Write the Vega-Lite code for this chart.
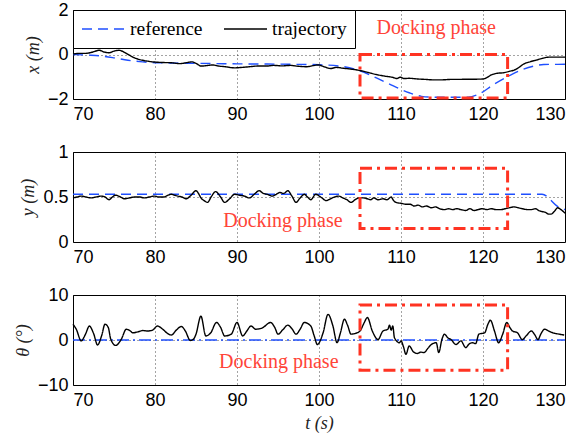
{
  "$schema": "https://vega.github.io/schema/vega-lite/v6.json",
  "padding": {"left": 13, "top": 0, "right": 5, "bottom": 0},
  "background": "white",
  "config": {
    "view": {"stroke": "black", "strokeWidth": 1},
    "axis": {
      "grid": true, "gridColor": "black", "gridDash": [1, 3], "gridWidth": 0.8, "gridOpacity": 0.9,
      "domain": false, "ticks": false,
      "labelFont": "Liberation Sans, Arial, sans-serif", "labelFontSize": 18, "labelColor": "black",
      "titleFont": "Liberation Serif, DejaVu Serif, Times New Roman, serif", "titleFontStyle": "italic", "titleFontWeight": "normal",
      "titleFontSize": 18, "titleColor": "#222222", "titlePadding": 5
    },
    "axisX": {"labelPadding": 6},
    "axisY": {"labelPadding": 5}
  },
  "bounds": "flush",
  "spacing": 53,
  "resolve": {"scale": {"color": "independent", "strokeDash": "independent"}, "legend": {"color": "independent", "strokeDash": "independent"}},
  "datasets": {
    "xd": [
      {"t": 70, "v": 0.0, "s": "reference"}, {"t": 72, "v": -0.03, "s": "reference"}, {"t": 73.5, "v": -0.07, "s": "reference"},
      {"t": 75, "v": -0.15, "s": "reference"}, {"t": 76.7, "v": -0.26, "s": "reference"}, {"t": 78.5, "v": -0.33, "s": "reference"},
      {"t": 80, "v": -0.37, "s": "reference"}, {"t": 85.6, "v": -0.4, "s": "reference"}, {"t": 90, "v": -0.42, "s": "reference"},
      {"t": 96.6, "v": -0.44, "s": "reference"}, {"t": 100, "v": -0.46, "s": "reference"}, {"t": 102.5, "v": -0.52, "s": "reference"},
      {"t": 104.9, "v": -0.72, "s": "reference"}, {"t": 107, "v": -1.05, "s": "reference"}, {"t": 109, "v": -1.4, "s": "reference"},
      {"t": 111, "v": -1.72, "s": "reference"}, {"t": 112.5, "v": -1.88, "s": "reference"}, {"t": 114, "v": -1.92, "s": "reference"},
      {"t": 118.2, "v": -1.92, "s": "reference"}, {"t": 119.5, "v": -1.78, "s": "reference"}, {"t": 121.3, "v": -1.35, "s": "reference"},
      {"t": 123.4, "v": -0.92, "s": "reference"}, {"t": 124.8, "v": -0.68, "s": "reference"}, {"t": 126.2, "v": -0.52, "s": "reference"},
      {"t": 127.4, "v": -0.45, "s": "reference"}, {"t": 130, "v": -0.44, "s": "reference"},
      {"t": 70, "v": 0.02, "s": "trajectory"}, {"t": 70.8, "v": 0.05, "s": "trajectory"}, {"t": 71.5, "v": 0.05, "s": "trajectory"},
      {"t": 72.3, "v": 0.1, "s": "trajectory"}, {"t": 73.2, "v": 0.19, "s": "trajectory"}, {"t": 73.8, "v": 0.11, "s": "trajectory"},
      {"t": 74.4, "v": 0.08, "s": "trajectory"}, {"t": 75, "v": 0.15, "s": "trajectory"}, {"t": 75.6, "v": 0.19, "s": "trajectory"},
      {"t": 76.5, "v": 0.05, "s": "trajectory"}, {"t": 77.5, "v": -0.15, "s": "trajectory"}, {"t": 78.5, "v": -0.26, "s": "trajectory"},
      {"t": 79.3, "v": -0.31, "s": "trajectory"}, {"t": 80, "v": -0.34, "s": "trajectory"}, {"t": 81, "v": -0.36, "s": "trajectory"},
      {"t": 82, "v": -0.37, "s": "trajectory"}, {"t": 83, "v": -0.41, "s": "trajectory"}, {"t": 83.8, "v": -0.37, "s": "trajectory"},
      {"t": 84.5, "v": -0.33, "s": "trajectory"}, {"t": 85.1, "v": -0.42, "s": "trajectory"}, {"t": 85.6, "v": -0.52, "s": "trajectory"},
      {"t": 86.3, "v": -0.5, "s": "trajectory"}, {"t": 87, "v": -0.47, "s": "trajectory"}, {"t": 87.8, "v": -0.52, "s": "trajectory"},
      {"t": 88.6, "v": -0.55, "s": "trajectory"}, {"t": 89.7, "v": -0.6, "s": "trajectory"}, {"t": 90.6, "v": -0.58, "s": "trajectory"},
      {"t": 91.5, "v": -0.55, "s": "trajectory"}, {"t": 92.5, "v": -0.52, "s": "trajectory"}, {"t": 93.5, "v": -0.52, "s": "trajectory"},
      {"t": 94.5, "v": -0.49, "s": "trajectory"}, {"t": 95.5, "v": -0.51, "s": "trajectory"}, {"t": 96.5, "v": -0.49, "s": "trajectory"},
      {"t": 97.5, "v": -0.53, "s": "trajectory"}, {"t": 98.5, "v": -0.55, "s": "trajectory"}, {"t": 99.3, "v": -0.5, "s": "trajectory"},
      {"t": 99.9, "v": -0.47, "s": "trajectory"}, {"t": 100.7, "v": -0.56, "s": "trajectory"}, {"t": 101.4, "v": -0.63, "s": "trajectory"},
      {"t": 102.1, "v": -0.58, "s": "trajectory"}, {"t": 103, "v": -0.62, "s": "trajectory"}, {"t": 104, "v": -0.66, "s": "trajectory"},
      {"t": 105, "v": -0.72, "s": "trajectory"}, {"t": 106, "v": -0.81, "s": "trajectory"}, {"t": 107, "v": -0.9, "s": "trajectory"},
      {"t": 108, "v": -0.97, "s": "trajectory"}, {"t": 109, "v": -1.03, "s": "trajectory"}, {"t": 109.5, "v": -1.08, "s": "trajectory"},
      {"t": 109.9, "v": -1.02, "s": "trajectory"}, {"t": 110.4, "v": -1.08, "s": "trajectory"}, {"t": 111, "v": -1.07, "s": "trajectory"},
      {"t": 112, "v": -1.1, "s": "trajectory"}, {"t": 113, "v": -1.12, "s": "trajectory"}, {"t": 114, "v": -1.14, "s": "trajectory"},
      {"t": 115, "v": -1.14, "s": "trajectory"}, {"t": 116, "v": -1.12, "s": "trajectory"}, {"t": 117, "v": -1.12, "s": "trajectory"},
      {"t": 118, "v": -1.11, "s": "trajectory"}, {"t": 119, "v": -1.11, "s": "trajectory"}, {"t": 120, "v": -1.1, "s": "trajectory"},
      {"t": 120.5, "v": -1.03, "s": "trajectory"}, {"t": 121, "v": -0.92, "s": "trajectory"}, {"t": 121.8, "v": -0.84, "s": "trajectory"},
      {"t": 122.5, "v": -0.82, "s": "trajectory"}, {"t": 123.3, "v": -0.75, "s": "trajectory"}, {"t": 123.8, "v": -0.7, "s": "trajectory"},
      {"t": 124.3, "v": -0.6, "s": "trajectory"}, {"t": 125, "v": -0.42, "s": "trajectory"}, {"t": 125.8, "v": -0.32, "s": "trajectory"},
      {"t": 126.5, "v": -0.25, "s": "trajectory"}, {"t": 127.3, "v": -0.17, "s": "trajectory"}, {"t": 128, "v": -0.12, "s": "trajectory"},
      {"t": 129, "v": -0.12, "s": "trajectory"}, {"t": 130, "v": -0.12, "s": "trajectory"}
    ],
    "yd": [
      {"t": 70, "v": 0.53, "s": "reference"}, {"t": 127.2, "v": 0.53, "s": "reference"}, {"t": 129.2, "v": 0.39, "s": "reference"}, {"t": 130, "v": 0.36, "s": "reference"},
      {"t": 70, "v": 0.49, "s": "trajectory"}, {"t": 70.5, "v": 0.5, "s": "trajectory"}, {"t": 71, "v": 0.51, "s": "trajectory"},
      {"t": 71.6, "v": 0.5, "s": "trajectory"}, {"t": 72.2, "v": 0.49, "s": "trajectory"}, {"t": 72.8, "v": 0.5, "s": "trajectory"},
      {"t": 73.4, "v": 0.51, "s": "trajectory"}, {"t": 73.9, "v": 0.5, "s": "trajectory"}, {"t": 74.4, "v": 0.47, "s": "trajectory"},
      {"t": 74.8, "v": 0.5, "s": "trajectory"}, {"t": 75.2, "v": 0.52, "s": "trajectory"}, {"t": 75.8, "v": 0.5, "s": "trajectory"},
      {"t": 76.3, "v": 0.48, "s": "trajectory"}, {"t": 76.9, "v": 0.49, "s": "trajectory"}, {"t": 77.5, "v": 0.5, "s": "trajectory"},
      {"t": 78.1, "v": 0.5, "s": "trajectory"}, {"t": 78.7, "v": 0.49, "s": "trajectory"}, {"t": 79.3, "v": 0.5, "s": "trajectory"},
      {"t": 79.9, "v": 0.51, "s": "trajectory"}, {"t": 80.5, "v": 0.5, "s": "trajectory"}, {"t": 81.1, "v": 0.5, "s": "trajectory"},
      {"t": 81.6, "v": 0.52, "s": "trajectory"}, {"t": 82, "v": 0.53, "s": "trajectory"}, {"t": 82.4, "v": 0.52, "s": "trajectory"},
      {"t": 82.8, "v": 0.51, "s": "trajectory"}, {"t": 83.3, "v": 0.5, "s": "trajectory"}, {"t": 83.8, "v": 0.48, "s": "trajectory"},
      {"t": 84.4, "v": 0.52, "s": "trajectory"}, {"t": 85, "v": 0.57, "s": "trajectory"}, {"t": 85.3, "v": 0.54, "s": "trajectory"},
      {"t": 85.6, "v": 0.49, "s": "trajectory"}, {"t": 86, "v": 0.46, "s": "trajectory"}, {"t": 86.4, "v": 0.44, "s": "trajectory"},
      {"t": 86.9, "v": 0.51, "s": "trajectory"}, {"t": 87.4, "v": 0.56, "s": "trajectory"}, {"t": 88, "v": 0.5, "s": "trajectory"},
      {"t": 88.5, "v": 0.44, "s": "trajectory"}, {"t": 89.1, "v": 0.48, "s": "trajectory"}, {"t": 89.7, "v": 0.53, "s": "trajectory"},
      {"t": 90.3, "v": 0.52, "s": "trajectory"}, {"t": 90.9, "v": 0.51, "s": "trajectory"}, {"t": 91.5, "v": 0.49, "s": "trajectory"},
      {"t": 92.1, "v": 0.53, "s": "trajectory"}, {"t": 92.7, "v": 0.57, "s": "trajectory"}, {"t": 93.2, "v": 0.54, "s": "trajectory"},
      {"t": 93.7, "v": 0.53, "s": "trajectory"}, {"t": 94.3, "v": 0.51, "s": "trajectory"}, {"t": 94.8, "v": 0.53, "s": "trajectory"},
      {"t": 95.2, "v": 0.55, "s": "trajectory"}, {"t": 95.7, "v": 0.54, "s": "trajectory"}, {"t": 96.2, "v": 0.57, "s": "trajectory"},
      {"t": 96.7, "v": 0.51, "s": "trajectory"}, {"t": 97.2, "v": 0.44, "s": "trajectory"}, {"t": 97.7, "v": 0.49, "s": "trajectory"},
      {"t": 98.2, "v": 0.53, "s": "trajectory"}, {"t": 98.6, "v": 0.5, "s": "trajectory"}, {"t": 99, "v": 0.47, "s": "trajectory"},
      {"t": 99.6, "v": 0.53, "s": "trajectory"}, {"t": 100.2, "v": 0.5, "s": "trajectory"}, {"t": 100.9, "v": 0.46, "s": "trajectory"},
      {"t": 101.4, "v": 0.48, "s": "trajectory"}, {"t": 101.9, "v": 0.5, "s": "trajectory"}, {"t": 102.4, "v": 0.51, "s": "trajectory"},
      {"t": 102.9, "v": 0.49, "s": "trajectory"}, {"t": 103.4, "v": 0.47, "s": "trajectory"}, {"t": 103.9, "v": 0.44, "s": "trajectory"},
      {"t": 104.4, "v": 0.47, "s": "trajectory"}, {"t": 104.9, "v": 0.49, "s": "trajectory"}, {"t": 105.4, "v": 0.49, "s": "trajectory"},
      {"t": 105.9, "v": 0.48, "s": "trajectory"}, {"t": 106.3, "v": 0.47, "s": "trajectory"}, {"t": 106.7, "v": 0.49, "s": "trajectory"},
      {"t": 107.2, "v": 0.47, "s": "trajectory"}, {"t": 107.8, "v": 0.48, "s": "trajectory"}, {"t": 108.3, "v": 0.47, "s": "trajectory"},
      {"t": 108.8, "v": 0.5, "s": "trajectory"}, {"t": 109.1, "v": 0.46, "s": "trajectory"}, {"t": 109.4, "v": 0.44, "s": "trajectory"},
      {"t": 110, "v": 0.43, "s": "trajectory"}, {"t": 110.6, "v": 0.42, "s": "trajectory"}, {"t": 111.1, "v": 0.42, "s": "trajectory"},
      {"t": 111.6, "v": 0.4, "s": "trajectory"}, {"t": 112.1, "v": 0.41, "s": "trajectory"}, {"t": 112.6, "v": 0.39, "s": "trajectory"},
      {"t": 113.1, "v": 0.4, "s": "trajectory"}, {"t": 113.7, "v": 0.38, "s": "trajectory"}, {"t": 114.2, "v": 0.39, "s": "trajectory"},
      {"t": 114.7, "v": 0.37, "s": "trajectory"}, {"t": 115.3, "v": 0.36, "s": "trajectory"}, {"t": 115.8, "v": 0.37, "s": "trajectory"},
      {"t": 116.3, "v": 0.36, "s": "trajectory"}, {"t": 116.8, "v": 0.37, "s": "trajectory"}, {"t": 117.3, "v": 0.36, "s": "trajectory"},
      {"t": 117.9, "v": 0.35, "s": "trajectory"}, {"t": 118.4, "v": 0.37, "s": "trajectory"}, {"t": 118.9, "v": 0.35, "s": "trajectory"},
      {"t": 119.4, "v": 0.36, "s": "trajectory"}, {"t": 119.9, "v": 0.37, "s": "trajectory"}, {"t": 120.5, "v": 0.36, "s": "trajectory"},
      {"t": 121, "v": 0.37, "s": "trajectory"}, {"t": 121.6, "v": 0.36, "s": "trajectory"}, {"t": 122.2, "v": 0.36, "s": "trajectory"},
      {"t": 122.7, "v": 0.37, "s": "trajectory"}, {"t": 123.2, "v": 0.38, "s": "trajectory"}, {"t": 123.8, "v": 0.39, "s": "trajectory"},
      {"t": 124.3, "v": 0.38, "s": "trajectory"}, {"t": 124.8, "v": 0.37, "s": "trajectory"}, {"t": 125.4, "v": 0.36, "s": "trajectory"},
      {"t": 125.9, "v": 0.36, "s": "trajectory"}, {"t": 126.4, "v": 0.37, "s": "trajectory"}, {"t": 126.8, "v": 0.35, "s": "trajectory"},
      {"t": 127.1, "v": 0.34, "s": "trajectory"}, {"t": 127.6, "v": 0.33, "s": "trajectory"}, {"t": 128, "v": 0.31, "s": "trajectory"},
      {"t": 128.3, "v": 0.31, "s": "trajectory"}, {"t": 128.7, "v": 0.34, "s": "trajectory"}, {"t": 129.1, "v": 0.38, "s": "trajectory"},
      {"t": 129.5, "v": 0.36, "s": "trajectory"}, {"t": 130, "v": 0.32, "s": "trajectory"}
    ],
    "td": [
      {"t": 70, "v": 0, "s": "reference"}, {"t": 130, "v": 0, "s": "reference"},
      {"t": 70, "v": 3.5, "s": "trajectory"}, {"t": 70.4, "v": 2.4, "s": "trajectory"}, {"t": 71, "v": -0.2, "s": "trajectory"},
      {"t": 71.5, "v": 1.2, "s": "trajectory"}, {"t": 72, "v": 3.1, "s": "trajectory"}, {"t": 72.5, "v": 1.5, "s": "trajectory"},
      {"t": 73, "v": -1.1, "s": "trajectory"}, {"t": 73.5, "v": 1.0, "s": "trajectory"}, {"t": 73.9, "v": 3.5, "s": "trajectory"},
      {"t": 74.3, "v": 2.8, "s": "trajectory"}, {"t": 74.6, "v": 0.2, "s": "trajectory"}, {"t": 75.2, "v": -1.2, "s": "trajectory"},
      {"t": 75.9, "v": 0.2, "s": "trajectory"}, {"t": 76.5, "v": 2.4, "s": "trajectory"}, {"t": 77, "v": 2.0, "s": "trajectory"},
      {"t": 77.3, "v": 1.6, "s": "trajectory"}, {"t": 77.9, "v": 1.8, "s": "trajectory"}, {"t": 78.5, "v": 2.1, "s": "trajectory"},
      {"t": 79.1, "v": 2.0, "s": "trajectory"}, {"t": 79.7, "v": 2.2, "s": "trajectory"}, {"t": 80.3, "v": 3.1, "s": "trajectory"},
      {"t": 81, "v": 2.3, "s": "trajectory"}, {"t": 81.5, "v": 1.5, "s": "trajectory"}, {"t": 82, "v": 1.1, "s": "trajectory"},
      {"t": 82.6, "v": 2.2, "s": "trajectory"}, {"t": 83.2, "v": 3.0, "s": "trajectory"}, {"t": 83.7, "v": 2.0, "s": "trajectory"},
      {"t": 84.3, "v": -0.1, "s": "trajectory"}, {"t": 84.7, "v": 0.2, "s": "trajectory"}, {"t": 85, "v": 1.3, "s": "trajectory"},
      {"t": 85.6, "v": 5.3, "s": "trajectory"}, {"t": 86.2, "v": 0.9, "s": "trajectory"}, {"t": 86.8, "v": 1.6, "s": "trajectory"},
      {"t": 87.5, "v": 3.9, "s": "trajectory"}, {"t": 88, "v": 2.8, "s": "trajectory"}, {"t": 88.5, "v": 0.9, "s": "trajectory"},
      {"t": 89.3, "v": 1.3, "s": "trajectory"}, {"t": 90, "v": 3.9, "s": "trajectory"}, {"t": 90.7, "v": 0.9, "s": "trajectory"},
      {"t": 91.2, "v": 2.0, "s": "trajectory"}, {"t": 91.7, "v": 3.1, "s": "trajectory"}, {"t": 92.3, "v": 2.4, "s": "trajectory"},
      {"t": 93.1, "v": 2.7, "s": "trajectory"}, {"t": 94.1, "v": 3.9, "s": "trajectory"}, {"t": 94.6, "v": 2.8, "s": "trajectory"},
      {"t": 95, "v": 1.3, "s": "trajectory"}, {"t": 95.6, "v": 2.3, "s": "trajectory"}, {"t": 96.2, "v": 3.3, "s": "trajectory"},
      {"t": 96.7, "v": 2.5, "s": "trajectory"}, {"t": 97.2, "v": 1.3, "s": "trajectory"}, {"t": 97.7, "v": 2.4, "s": "trajectory"},
      {"t": 98.2, "v": 3.9, "s": "trajectory"}, {"t": 99, "v": 3.1, "s": "trajectory"}, {"t": 99.4, "v": 1.0, "s": "trajectory"},
      {"t": 99.8, "v": -1.0, "s": "trajectory"}, {"t": 100.5, "v": 1.6, "s": "trajectory"}, {"t": 101.1, "v": 5.7, "s": "trajectory"},
      {"t": 101.7, "v": 3.1, "s": "trajectory"}, {"t": 102.2, "v": -0.6, "s": "trajectory"}, {"t": 102.6, "v": 1.5, "s": "trajectory"},
      {"t": 103.1, "v": 4.6, "s": "trajectory"}, {"t": 103.5, "v": 3.2, "s": "trajectory"}, {"t": 103.9, "v": 1.3, "s": "trajectory"},
      {"t": 104.5, "v": 1.5, "s": "trajectory"}, {"t": 105, "v": 2.0, "s": "trajectory"}, {"t": 105.5, "v": 3.8, "s": "trajectory"},
      {"t": 105.9, "v": 5.0, "s": "trajectory"}, {"t": 106.5, "v": 2.0, "s": "trajectory"}, {"t": 107.2, "v": 0.1, "s": "trajectory"},
      {"t": 107.8, "v": 2.0, "s": "trajectory"}, {"t": 108.4, "v": 2.4, "s": "trajectory"}, {"t": 108.6, "v": 3.3, "s": "trajectory"},
      {"t": 108.8, "v": 2.2, "s": "trajectory"}, {"t": 109, "v": 3.1, "s": "trajectory"}, {"t": 109.2, "v": 0.5, "s": "trajectory"},
      {"t": 109.8, "v": -0.6, "s": "trajectory"}, {"t": 110, "v": -0.2, "s": "trajectory"}, {"t": 110.3, "v": -1.5, "s": "trajectory"},
      {"t": 110.6, "v": -3.2, "s": "trajectory"}, {"t": 111, "v": -1.3, "s": "trajectory"}, {"t": 111.5, "v": -2.6, "s": "trajectory"},
      {"t": 112, "v": -3.0, "s": "trajectory"}, {"t": 112.4, "v": -2.7, "s": "trajectory"}, {"t": 112.8, "v": -2.8, "s": "trajectory"},
      {"t": 113.3, "v": -1.8, "s": "trajectory"}, {"t": 113.7, "v": -1.0, "s": "trajectory"}, {"t": 114.3, "v": -0.6, "s": "trajectory"},
      {"t": 114.6, "v": -2.8, "s": "trajectory"}, {"t": 115, "v": 0.2, "s": "trajectory"}, {"t": 115.3, "v": 1.3, "s": "trajectory"},
      {"t": 115.7, "v": 0.5, "s": "trajectory"}, {"t": 116.1, "v": 0.1, "s": "trajectory"}, {"t": 116.7, "v": -1.0, "s": "trajectory"},
      {"t": 117.3, "v": -0.2, "s": "trajectory"}, {"t": 117.9, "v": -1.7, "s": "trajectory"}, {"t": 118.3, "v": -0.9, "s": "trajectory"},
      {"t": 118.7, "v": -0.6, "s": "trajectory"}, {"t": 119.1, "v": -0.8, "s": "trajectory"}, {"t": 119.5, "v": 1.3, "s": "trajectory"},
      {"t": 120.2, "v": 1.6, "s": "trajectory"}, {"t": 120.6, "v": 3.5, "s": "trajectory"}, {"t": 120.9, "v": 4.4, "s": "trajectory"},
      {"t": 121.4, "v": 2.0, "s": "trajectory"}, {"t": 121.9, "v": -0.6, "s": "trajectory"}, {"t": 122.4, "v": 1.3, "s": "trajectory"},
      {"t": 122.9, "v": 3.9, "s": "trajectory"}, {"t": 123.3, "v": 2.7, "s": "trajectory"}, {"t": 123.6, "v": 2.0, "s": "trajectory"},
      {"t": 124.2, "v": 1.6, "s": "trajectory"}, {"t": 124.8, "v": 0.1, "s": "trajectory"}, {"t": 125.3, "v": 1.0, "s": "trajectory"},
      {"t": 125.9, "v": 2.0, "s": "trajectory"}, {"t": 126.3, "v": 1.2, "s": "trajectory"}, {"t": 126.7, "v": 0.1, "s": "trajectory"},
      {"t": 127.1, "v": 1.5, "s": "trajectory"}, {"t": 127.5, "v": 2.4, "s": "trajectory"}, {"t": 128.1, "v": 1.9, "s": "trajectory"},
      {"t": 128.7, "v": 1.5, "s": "trajectory"}, {"t": 129.3, "v": 1.3, "s": "trajectory"}, {"t": 129.9, "v": 1.1, "s": "trajectory"}
    ]
  },
  "vconcat": [
    {
      "width": 492, "height": 89,
      "layer": [
        {
          "data": {"name": "xd"},
          "mark": {"type": "line", "strokeWidth": 1.4, "interpolate": "monotone"},
          "encoding": {
            "x": {"field": "t", "type": "quantitative", "scale": {"domain": [70, 130], "nice": false, "zero": false}, "axis": {"values": [70, 80, 90, 100, 110, 120, 130], "title": null}},
            "y": {"field": "v", "type": "quantitative", "scale": {"domain": [-2, 2], "nice": false, "zero": false}, "axis": {"values": [-2, 0, 2], "format": "~r", "title": "x (m)"}},
            "color": {"field": "s", "type": "nominal", "scale": {"domain": ["reference", "trajectory"], "range": ["#1f4fff", "#000000"]},
              "legend": {"orient": "none", "legendX": 0, "legendY": 0, "direction": "horizontal", "title": null, "fillColor": "white", "strokeColor": "black", "padding": 8, "symbolType": "stroke", "symbolSize": 1849, "symbolStrokeWidth": 1.4, "clipHeight": 22, "labelFont": "Liberation Serif, DejaVu Serif, Times New Roman, serif", "labelFontSize": 19.5, "labelColor": "black", "labelOffset": 4, "columnPadding": 20}},
            "strokeDash": {"field": "s", "type": "nominal", "scale": {"domain": ["reference", "trajectory"], "range": [[10, 6], [1, 0]]},
              "legend": {"orient": "none", "legendX": 0, "legendY": 0, "direction": "horizontal", "title": null, "fillColor": "white", "strokeColor": "black", "padding": 8, "symbolType": "stroke", "symbolSize": 1849, "symbolStrokeWidth": 1.4, "clipHeight": 22, "labelFont": "Liberation Serif, DejaVu Serif, Times New Roman, serif", "labelFontSize": 19.5, "labelColor": "black", "labelOffset": 4, "columnPadding": 20}}
          }
        },
        {
          "data": {"values": [{}]},
          "mark": {"type": "rect", "filled": false, "stroke": "#ff3322", "strokeWidth": 3, "strokeDash": [12, 5, 3, 5]},
          "encoding": {"x": {"datum": 105}, "x2": {"datum": 123}, "y": {"datum": 0}, "y2": {"datum": -1.95}}
        },
        {
          "data": {"values": [{}]},
          "mark": {"type": "text", "text": "Docking phase", "font": "Liberation Serif, DejaVu Serif, Times New Roman, serif", "fontSize": 20, "color": "#ff4438"},
          "encoding": {"x": {"datum": 114.3}, "y": {"datum": 1.2}}
        }
      ]
    },
    {
      "width": 492, "height": 90,
      "layer": [
        {
          "data": {"name": "yd"},
          "mark": {"type": "line", "strokeWidth": 1.4, "interpolate": "monotone"},
          "encoding": {
            "x": {"field": "t", "type": "quantitative", "scale": {"domain": [70, 130], "nice": false, "zero": false}, "axis": {"values": [70, 80, 90, 100, 110, 120, 130], "title": null}},
            "y": {"field": "v", "type": "quantitative", "scale": {"domain": [0, 1], "nice": false, "zero": false}, "axis": {"values": [0, 0.5, 1], "format": "~r", "title": "y (m)"}},
            "color": {"field": "s", "type": "nominal", "scale": {"domain": ["reference", "trajectory"], "range": ["#1f4fff", "#000000"]}, "legend": null},
            "strokeDash": {"field": "s", "type": "nominal", "scale": {"domain": ["reference", "trajectory"], "range": [[10, 6], [1, 0]]}, "legend": null}
          }
        },
        {
          "data": {"values": [{}]},
          "mark": {"type": "rect", "filled": false, "stroke": "#ff3322", "strokeWidth": 3, "strokeDash": [12, 5, 3, 5]},
          "encoding": {"x": {"datum": 105}, "x2": {"datum": 123}, "y": {"datum": 0.82}, "y2": {"datum": 0.15}}
        },
        {
          "data": {"values": [{}]},
          "mark": {"type": "text", "text": "Docking phase", "font": "Liberation Serif, DejaVu Serif, Times New Roman, serif", "fontSize": 20, "color": "#ff4438"},
          "encoding": {"x": {"datum": 95.6}, "y": {"datum": 0.23}}
        }
      ]
    },
    {
      "width": 492, "height": 90,
      "layer": [
        {
          "data": {"name": "td"},
          "mark": {"type": "line", "strokeWidth": 1.4, "interpolate": "monotone"},
          "encoding": {
            "x": {"field": "t", "type": "quantitative", "scale": {"domain": [70, 130], "nice": false, "zero": false}, "axis": {"values": [70, 80, 90, 100, 110, 120, 130], "title": "t (s)"}},
            "y": {"field": "v", "type": "quantitative", "scale": {"domain": [-10, 10], "nice": false, "zero": false}, "axis": {"values": [-10, 0, 10], "format": "~r", "title": "θ (°)"}},
            "color": {"field": "s", "type": "nominal", "scale": {"domain": ["reference", "trajectory"], "range": ["#1f4fff", "#000000"]}, "legend": null},
            "strokeDash": {"field": "s", "type": "nominal", "scale": {"domain": ["reference", "trajectory"], "range": [[12, 4, 2, 4], [1, 0]]}, "legend": null}
          }
        },
        {
          "data": {"values": [{}]},
          "mark": {"type": "rect", "filled": false, "stroke": "#ff3322", "strokeWidth": 3, "strokeDash": [12, 5, 3, 5]},
          "encoding": {"x": {"datum": 105}, "x2": {"datum": 123}, "y": {"datum": 7.8}, "y2": {"datum": -6.7}}
        },
        {
          "data": {"values": [{}]},
          "mark": {"type": "text", "text": "Docking phase", "font": "Liberation Serif, DejaVu Serif, Times New Roman, serif", "fontSize": 20, "color": "#ff4438"},
          "encoding": {"x": {"datum": 95.1}, "y": {"datum": -4.9}}
        }
      ]
    }
  ]
}
